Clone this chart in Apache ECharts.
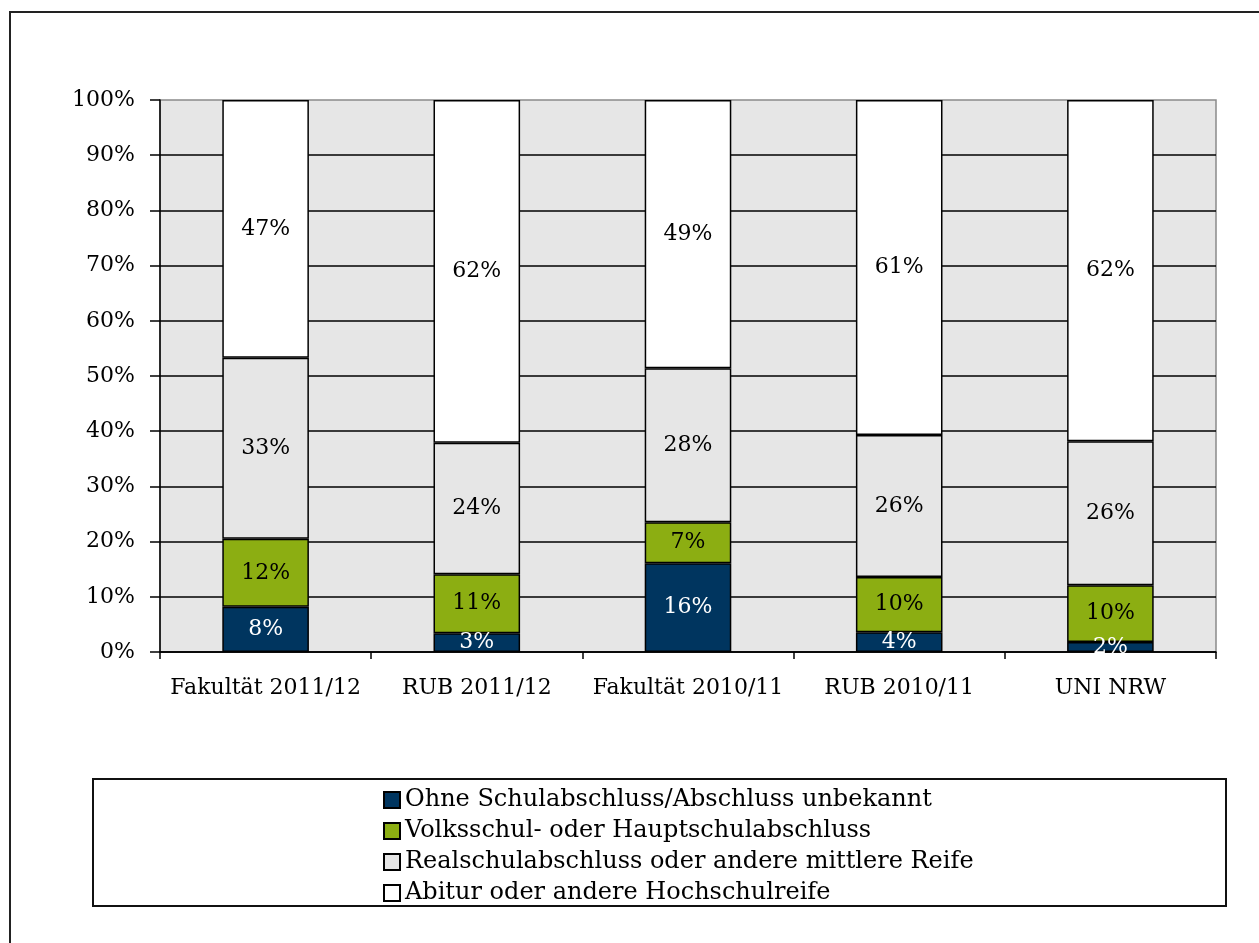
<!DOCTYPE html>
<html>
<head>
<meta charset="utf-8">
<title>Schulabschluss</title>
<script src="https://cdn.jsdelivr.net/npm/echarts@6/dist/echarts.min.js"></script>
<style>
    html, body { margin: 0; padding: 0; background: #ffffff; }
    #main { width: 1259px; height: 943px; }
</style>
</head>
<body>
<div id="main"></div>
<script>
// Kategorien und Anteile (in %)
const categories = ["Fakultät 2011/12", "RUB 2011/12", "Fakultät 2010/11", "RUB 2010/11", "UNI NRW"];
const ohneAbschluss = [8.2, 3.4, 16.1, 3.6, 1.8];
const volksHaupt = [12.3, 10.7, 7.4, 10.0, 10.3];
const realschule = [32.8, 23.8, 27.9, 25.7, 26.1];
const abitur = [46.7, 62.1, 48.6, 60.7, 61.8];

const seriesNames = [
    "Ohne Schulabschluss/Abschluss unbekannt",
    "Volksschul- oder Hauptschulabschluss",
    "Realschulabschluss oder andere mittlere Reife",
    "Abitur oder andere Hochschulreife",
];
const colors = ["#00355f", "#8cae12", "#e6e6e6", "#ffffff"];
const labelColors = ["#ffffff", "#000000", "#000000", "#000000"];

const font = "DejaVu Serif";

const chart = echarts.init(document.getElementById("main"));

function makeSeries(name, data, idx) {
    return {
        name: name,
        type: "bar",
        stack: "total",
        barCategoryGap: "59%",
        data: data,
        itemStyle: {
            color: colors[idx],
            borderColor: "#000000",
            borderWidth: 1.5,
        },
        label: {
            show: true,
            position: "inside",
            fontFamily: font,
            fontSize: 22,
            color: labelColors[idx],
            formatter: (p) => Math.round(p.value) + "%",
        },
    };
}

const option = {
    backgroundColor: "#ffffff",
    animation: false,
    graphic: [
        {
            // äußerer Rahmen
            type: "rect",
            z: -10,
            shape: { x: 10, y: 12, width: 1300, height: 1000 },
            style: { fill: "none", stroke: "#222222", lineWidth: 2 },
        },
        {
            // Rahmen der Legende
            type: "rect",
            z: -5,
            shape: { x: 93, y: 779, width: 1133, height: 127 },
            style: { fill: "#ffffff", stroke: "#111111", lineWidth: 2 },
        },
    ],
    grid: {
        left: 160,
        right: 43,
        top: 100,
        bottom: 291,
        show: true,
        backgroundColor: "#e6e6e6",
        borderColor: "#8a8a8a",
        borderWidth: 1.5,
    },
    legend: {
        orient: "vertical",
        left: 378,
        top: 783,
        itemWidth: 16,
        itemHeight: 16,
        itemGap: 7,
        icon: "rect",
        data: seriesNames,
        textStyle: {
            fontFamily: font,
            fontSize: 24,
            lineHeight: 24,
            color: "#000000",
        },
    },
    xAxis: {
        type: "category",
        data: categories,
        axisLine: { lineStyle: { color: "#000000", width: 1.5 } },
        axisTick: { show: true, interval: 0, length: 7, lineStyle: { color: "#000000", width: 1.5 } },
        axisLabel: {
            interval: 0,
            fontFamily: font,
            fontSize: 22,
            color: "#000000",
            margin: 25,
        },
    },
    yAxis: {
        type: "value",
        min: 0,
        max: 100,
        interval: 10,
        axisLine: { show: true, lineStyle: { color: "#000000", width: 1.5 } },
        axisTick: { show: true, length: 10, lineStyle: { color: "#000000", width: 1.5 } },
        axisLabel: {
            fontFamily: font,
            fontSize: 22,
            color: "#000000",
            margin: 25,
            formatter: "{value}%",
        },
        splitLine: {
            show: true,
            showMaxLine: false,
            lineStyle: { color: "#000000", width: 1.5 },
        },
    },
    series: [
        makeSeries(seriesNames[0], ohneAbschluss, 0),
        makeSeries(seriesNames[1], volksHaupt, 1),
        makeSeries(seriesNames[2], realschule, 2),
        makeSeries(seriesNames[3], abitur, 3),
    ],
};

chart.setOption(option);
</script>
</body>
</html>
